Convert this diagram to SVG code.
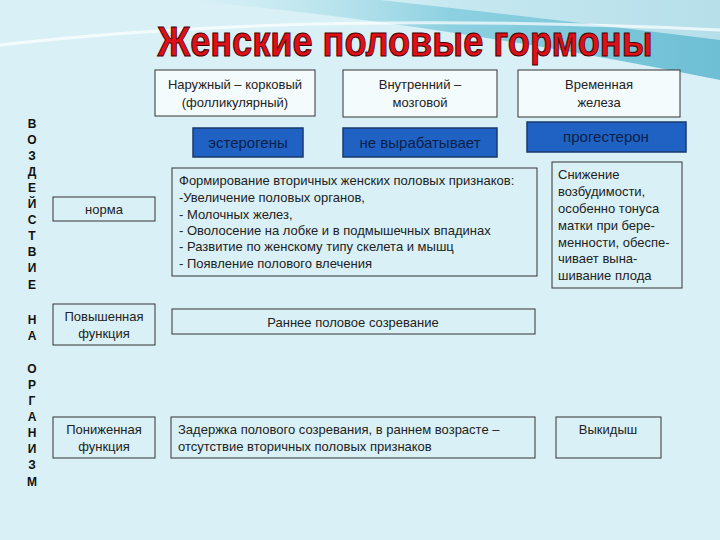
<svg xmlns="http://www.w3.org/2000/svg" width="720" height="540" viewBox="0 0 720 540">
<defs>
<linearGradient id="sw" x1="0" y1="0" x2="1" y2="0"><stop offset="0" stop-color="#a9dce8" stop-opacity="0"/><stop offset="0.5" stop-color="#6cc3d8"/><stop offset="1" stop-color="#3fa9c6"/></linearGradient>
<style>
.b{fill:none;stroke:#333;stroke-width:1}
.w{fill:#f4fbfd;stroke:#333;stroke-width:1}
.blue{fill:#1f62c4;stroke:#1a3a6a;stroke-width:1.5}
.t{font-family:"Liberation Sans",Arial,sans-serif;font-size:13px;fill:#222}
.tb{font-family:"Liberation Sans",Arial,sans-serif;font-size:15px;fill:#0c1f48}
.v{font-family:"Liberation Sans",Arial,sans-serif;font-size:12px;font-weight:bold;fill:#111}
</style>
</defs>
<rect width="720" height="540" fill="#d9f1f6"/>
<path d="M180 0 Q420 20 720 80 L720 0 Z" fill="url(#sw)" opacity="0.7"/>
<path d="M380 0 Q560 20 720 40 L720 0 Z" fill="#ffffff" opacity="0.5"/>
<path d="M0 45 Q300 10 720 30" fill="none" stroke="#ffffff" stroke-width="3" opacity="0.7"/>
<text x="405" y="56" text-anchor="middle" textLength="495" lengthAdjust="spacingAndGlyphs" font-family="Liberation Sans,Arial,sans-serif" font-weight="bold" font-size="42" fill="#e0101a" stroke="#400" stroke-width="1">Женские половые гормоны</text>
<g class="v" text-anchor="middle">
<text x="32" y="128">В</text><text x="32" y="144">О</text><text x="32" y="160">З</text><text x="32" y="176">Д</text><text x="32" y="192">Е</text><text x="32" y="208">Й</text><text x="32" y="224">С</text><text x="32" y="240">Т</text><text x="32" y="256">В</text><text x="32" y="272">И</text><text x="32" y="289">Е</text>
<text x="32" y="324">Н</text><text x="32" y="340">А</text>
<text x="32" y="373">О</text><text x="32" y="389">Р</text><text x="32" y="405">Г</text><text x="32" y="421">А</text><text x="32" y="437">Н</text><text x="32" y="453">И</text><text x="32" y="469">З</text><text x="32" y="486">М</text>
</g>
<g id="h1"><rect class="w" x="155" y="70" width="160" height="46"/><text class="t" x="235" y="89" text-anchor="middle">Наружный – корковый</text><text class="t" x="235" y="107" text-anchor="middle">(фолликулярный)</text></g>
<g id="h2"><rect class="w" x="343" y="70" width="154" height="47"/><text class="t" x="420" y="89" text-anchor="middle">Внутренний –</text><text class="t" x="420" y="107" text-anchor="middle">мозговой</text></g>
<g id="h3"><rect class="w" x="518" y="70" width="162" height="47"/><text class="t" x="599" y="89" text-anchor="middle">Временная</text><text class="t" x="599" y="107" text-anchor="middle">железа</text></g>
<g id="e1"><rect class="blue" x="193" y="128" width="110" height="29"/><text class="tb" x="248" y="148" text-anchor="middle">эстерогены</text></g>
<g id="e2"><rect class="blue" x="343" y="128" width="154" height="29"/><text class="tb" x="420" y="148" text-anchor="middle">не вырабатывает</text></g>
<g id="e3"><rect class="blue" x="527" y="122" width="159" height="30"/><text class="tb" x="606" y="142" text-anchor="middle">прогестерон</text></g>
<g id="r1"><rect class="b" x="53" y="197" width="102" height="24"/><text class="t" x="104" y="214" text-anchor="middle">норма</text></g>
<g id="r2"><rect class="b" x="53" y="304" width="102" height="41"/><text class="t" x="104" y="321" text-anchor="middle">Повышенная</text><text class="t" x="104" y="338" text-anchor="middle">функция</text></g>
<g id="r3"><rect class="b" x="53" y="417" width="102" height="41"/><text class="t" x="104" y="434" text-anchor="middle">Пониженная</text><text class="t" x="104" y="451" text-anchor="middle">функция</text></g>
<g id="c1"><rect class="b" x="172" y="168" width="365" height="108"/>
<text class="t" x="179" y="185">Формирование вторичных женских половых признаков:</text>
<text class="t" x="179" y="202">-Увеличение половых органов,</text>
<text class="t" x="179" y="219">- Молочных желез,</text>
<text class="t" x="179" y="235">- Оволосение на лобке и в подмышечных впадинах</text>
<text class="t" x="179" y="251">- Развитие по женскому типу скелета и мышц</text>
<text class="t" x="179" y="268">- Появление полового влечения</text></g>
<g id="c2"><rect class="b" x="552" y="162" width="130" height="126"/>
<text class="t" x="558" y="179">Снижение</text><text class="t" x="558" y="196">возбудимости,</text><text class="t" x="558" y="213">особенно тонуса</text><text class="t" x="558" y="230">матки при бере-</text><text class="t" x="558" y="247">менности, обеспе-</text><text class="t" x="558" y="263">чивает вына-</text><text class="t" x="558" y="280">шивание плода</text></g>
<g id="c3"><rect class="b" x="172" y="309" width="363" height="25"/><text class="t" x="353" y="327" text-anchor="middle">Раннее половое созревание</text></g>
<g id="c4"><rect class="b" x="171" y="417" width="364" height="41"/><text class="t" x="178" y="434">Задержка полового созревания, в раннем возрасте –</text><text class="t" x="178" y="451">отсутствие вторичных половых признаков</text></g>
<g id="c5"><rect class="b" x="556" y="417" width="105" height="41"/><text class="t" x="608" y="434" text-anchor="middle">Выкидыш</text></g>
<g id="connectors"/>
</svg>
